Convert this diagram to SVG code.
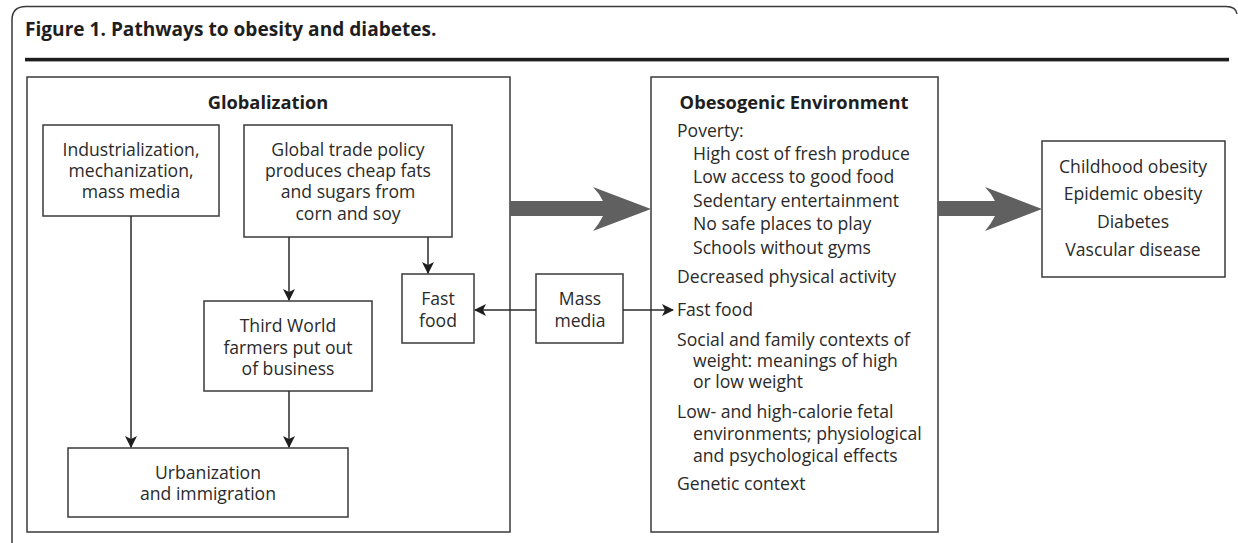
<svg xmlns="http://www.w3.org/2000/svg" width="1238" height="543" viewBox="0 0 1238 543">
<defs>
<style>
.box{fill:#fff;stroke:#3a3a3a;stroke-width:1.5}
.t{font-family:"Open Sans","Liberation Sans",sans-serif;font-size:17.6px;fill:#2a2a2a}
.c{text-anchor:middle}
.b{font-weight:bold;fill:#1e1e1e}
.h{font-size:18.3px}
.ln{stroke:#2a2a2a;stroke-width:1.5;fill:none}
.big{fill:#606060}
</style>
<marker id="ah" viewBox="0 0 12 12" refX="11" refY="6" markerWidth="12" markerHeight="12" markerUnits="userSpaceOnUse" orient="auto">
<path d="M0,0 L12,6 L0,12 L3,6 Z" fill="#1e1e1e"/>
</marker>
</defs>
<rect width="1238" height="543" fill="#fff"/>
<path d="M12,543 L12,20 Q12,6.5 26,6.5 L1226,6.5 Q1236,6.5 1237,14" fill="none" stroke="#3a3a3a" stroke-width="1.5"/>
<text x="25" y="36" class="t b" style="font-size:19.1px">Figure 1. Pathways to obesity and diabetes.</text>
<rect x="25" y="57.8" width="1204" height="3.6" fill="#1e1e1e"/>

<g id="globalization">
<rect class="box" x="27" y="77" width="483" height="455"/>
<text x="268" y="109" class="t c b h">Globalization</text>
</g>
<g id="industrialization">
<rect class="box" x="43" y="125" width="176" height="91"/>
<text class="t c" x="131" y="156">Industrialization,</text>
<text class="t c" x="131" y="177">mechanization,</text>
<text class="t c" x="131" y="198">mass media</text>
</g>
<g id="global-trade">
<rect class="box" x="244" y="125" width="208" height="112"/>
<text class="t c" x="348" y="156">Global trade policy</text>
<text class="t c" x="348" y="177">produces cheap fats</text>
<text class="t c" x="348" y="198">and sugars from</text>
<text class="t c" x="348" y="220">corn and soy</text>
</g>
<g id="third-world">
<rect class="box" x="204" y="301" width="168" height="90"/>
<text class="t c" x="288" y="332">Third World</text>
<text class="t c" x="288" y="354">farmers put out</text>
<text class="t c" x="288" y="375">of business</text>
</g>
<g id="urbanization">
<rect class="box" x="68" y="448" width="280" height="69"/>
<text class="t c" x="208" y="479">Urbanization</text>
<text class="t c" x="208" y="500">and immigration</text>
</g>
<g id="fast-food">
<rect class="box" x="402" y="274" width="72" height="69"/>
<text class="t c" x="438" y="305">Fast</text>
<text class="t c" x="438" y="327">food</text>
</g>
<g id="mass-media">
<rect class="box" x="536" y="274" width="87" height="69"/>
<text class="t c" x="580" y="305">Mass</text>
<text class="t c" x="580" y="327">media</text>
</g>
<g id="obesogenic">
<rect class="box" x="651" y="77" width="287" height="455"/>
<text x="794" y="109" class="t c b h">Obesogenic Environment</text>
<text class="t" x="677" y="137">Poverty:</text>
<text class="t" x="693" y="160">High cost of fresh produce</text>
<text class="t" x="693" y="183">Low access to good food</text>
<text class="t" x="693" y="207">Sedentary entertainment</text>
<text class="t" x="693" y="230">No safe places to play</text>
<text class="t" x="693" y="254">Schools without gyms</text>
<text class="t" x="677" y="283">Decreased physical activity</text>
<text class="t" x="677" y="316">Fast food</text>
<text class="t" x="677" y="346">Social and family contexts of</text>
<text class="t" x="693" y="367">weight: meanings of high</text>
<text class="t" x="693" y="388">or low weight</text>
<text class="t" x="677" y="418">Low- and high-calorie fetal</text>
<text class="t" x="693" y="440">environments; physiological</text>
<text class="t" x="693" y="462">and psychological effects</text>
<text class="t" x="677" y="490">Genetic context</text>
</g>
<g id="outcomes">
<rect class="box" x="1042" y="141" width="183" height="136"/>
<text class="t c" x="1133" y="173">Childhood obesity</text>
<text class="t c" x="1133" y="200">Epidemic obesity</text>
<text class="t c" x="1133" y="228">Diabetes</text>
<text class="t c" x="1133" y="256">Vascular disease</text>
</g>

<g id="connectors">
<line class="ln" x1="131" y1="216" x2="131" y2="447" marker-end="url(#ah)"/>
<line class="ln" x1="289" y1="237" x2="289" y2="300" marker-end="url(#ah)"/>
<line class="ln" x1="289" y1="391" x2="289" y2="447" marker-end="url(#ah)"/>
<line class="ln" x1="428" y1="237" x2="428" y2="273" marker-end="url(#ah)"/>
<line class="ln" x1="536" y1="310" x2="475" y2="310" marker-end="url(#ah)"/>
<line class="ln" x1="623" y1="310" x2="673" y2="310" marker-end="url(#ah)"/>
<path class="big" d="M510,201 L603,201 Q599,193 593,187 L651,209 L593,231 Q599,224 603,216 L510,216 Z"/>
<path class="big" d="M938,201 L995,201 Q991,193 985,187 L1042,209 L985,231 Q991,224 995,216 L938,216 Z"/>
</g>
</svg>
